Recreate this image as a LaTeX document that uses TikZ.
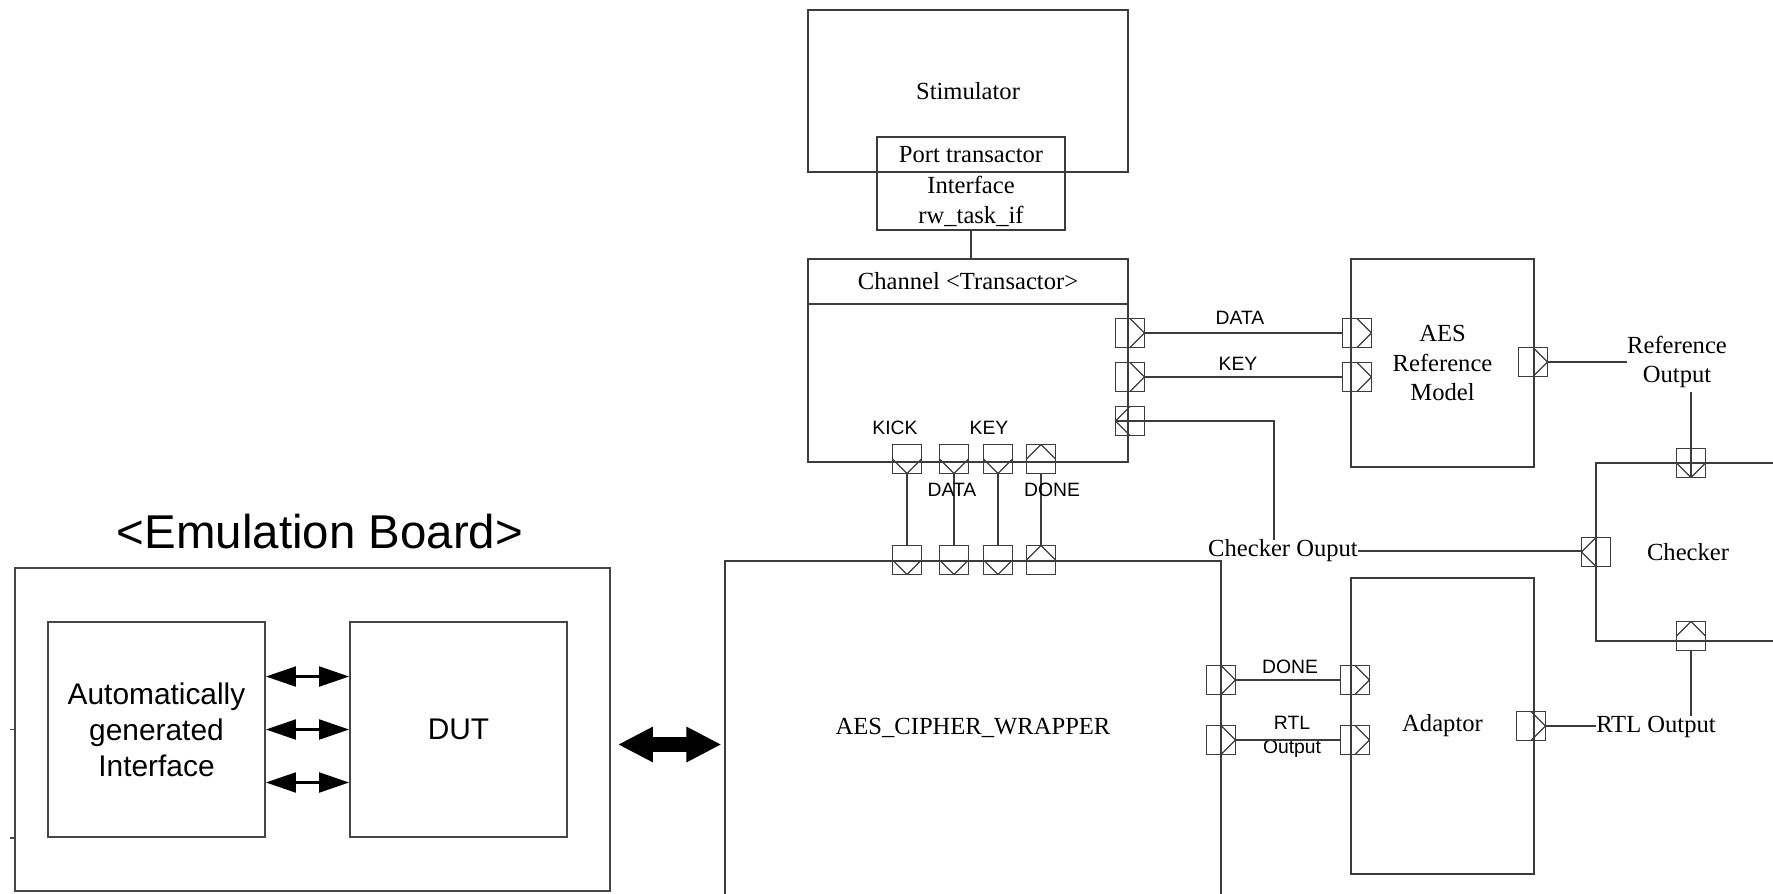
\documentclass[tikz,border=0pt]{standalone}
\usepackage{fontspec}
\setmainfont{Liberation Serif}
\newfontfamily\sigfont{Liberation Sans}
\usepackage{tikz}
\usetikzlibrary{arrows.meta,positioning,calc}
\definecolor{WireGray}{RGB}{60,60,60}
\definecolor{BoardGray}{RGB}{70,70,70}
\tikzset{
    blk/.style={draw=WireGray, line width=0.65pt, inner sep=0pt, align=center, font=\fontsize{14}{17}\selectfont},
    boardbox/.style={draw=BoardGray, line width=1.1pt, inner sep=0pt, align=center, font=\sigfont\fontsize{17}{20.4}\selectfont},
    portbox/.style={draw=WireGray, line width=0.65pt, minimum size=0.58cm, inner sep=0pt},
    chev/.style n args={3}{portbox, path picture={\draw[WireGray, line width=0.65pt] (path picture bounding box.#1) -- (path picture bounding box.#2) -- (path picture bounding box.#3);}},
    portR/.style={chev={north}{east}{south}},
    portL/.style={chev={north}{west}{south}},
    portD/.style={chev={west}{south}{east}},
    portU/.style={chev={west}{north}{east}},
    wire/.style={draw=WireGray, line width=0.65pt},
    sig/.style={inner sep=0pt, align=center, font=\sigfont\fontsize{11}{13.6}\selectfont},
    txt/.style={inner sep=0pt, align=center, font=\fontsize{14}{16.5}\selectfont},
    duplex/.style={{Triangle[length=0.6cm,width=0.4cm]}-{Triangle[length=0.6cm,width=0.4cm]}, line width=1.2pt, draw=black},
    bigarrow/.style={{Triangle[length=0.7cm,width=0.66cm]}-{Triangle[length=0.7cm,width=0.66cm]}, line width=0.3cm},
}
\begin{document}
\begin{tikzpicture}[x=0.02cm, y=-0.02cm]
\useasboundingbox (0,0) rectangle (1773,893);
\clip (0,0) rectangle (1773,893);

% emulation board
\node[font=\sigfont\fontsize{27}{30}\selectfont] (title) at (320,532) {<Emulation Board>};
\node[boardbox, minimum width=11.9cm, minimum height=6.46cm] (board) at (312.5,729.5) {};
\node[boardbox, minimum width=4.34cm, minimum height=4.3cm] (auto) at (156.5,729.5) {Automatically\\generated\\Interface};
\node[boardbox, minimum width=4.34cm, minimum height=4.3cm] (dut) at (458.5,729.5) {DUT};
\foreach \dy in {1.06,0,-1.06}
    \draw[duplex] ([yshift=\dy cm]auto.east) -- ([yshift=\dy cm]dut.west);
\draw[draw=BoardGray, line width=1.1pt] (board.west) -- ++(-4,0);
\draw[draw=BoardGray, line width=1.1pt] ([yshift=-2.17cm]board.west) -- ++(-4,0);

% host side
\node[blk, minimum width=6.4cm, minimum height=3.24cm] (stim) at (968,91) {Stimulator};
\node[blk, minimum width=3.76cm, minimum height=0.7cm] (porttr) at (971,154.5) {Port transactor};
\node[blk, minimum width=3.76cm, minimum height=1.16cm] (iface) at (971,201) {Interface\\rw\_task\_if};
\node[blk, minimum width=6.4cm, minimum height=4.06cm] (chan) at (968,360.5) {};
\node[blk, minimum width=6.4cm, minimum height=0.9cm, anchor=north] (chanhead) at (chan.north) {Channel <Transactor>};
\draw[wire] (iface.south) -- (iface.south |- chan.north);

\node[blk, minimum width=9.92cm, minimum height=6.68cm] (wrap) at (973,728) {AES\_CIPHER\_WRAPPER};
\node[blk, minimum width=3.66cm, minimum height=4.16cm] (aesref) at (1442.5,363) {AES\\Reference\\Model};
\node[blk, minimum width=3.66cm, minimum height=5.92cm] (adapt) at (1442.5,726) {Adaptor};
\node[blk, minimum width=3.68cm, minimum height=3.56cm] (check) at (1688,552) {Checker};

\coordinate (bigl) at ([yshift=-0.3cm]board.east);
\draw[bigarrow, shorten <=0.14cm, shorten >=0.06cm] (bigl) -- (bigl -| wrap.west);

% ports
\node[portR] (chdata) at (1130,333) {};
\node[portR] (chkey) at (1130,377) {};
\node[portL] (chres) at (1130,421) {};
\foreach \x/\n/\ap in {907/kick/south, 954/data/south, 998/key/south, 1041/done/north} {
    \node[chev={west}{\ap}{east}] (bot\n) at (\x,459) {};
    \node[chev={west}{\ap}{east}] (top\n) at (\x,560) {};
    \draw[wire] (bot\n.south) -- (top\n.north);
}
\node[portR] (wrdone) at (1221,680) {};
\node[portR] (wrrtl) at (1221,740) {};
\node[portR] (addone) at (1355,680) {};
\node[portR] (adrtl) at (1355,740) {};
\node[portR] (adout) at (1531,726) {};
\node[portR] (refdata) at (1357,333) {};
\node[portR] (refkey) at (1357,377) {};
\node[portR] (refout) at (1533,362) {};
\node[portD] (ckref) at (1691,463) {};
\node[portL] (ckin) at (1596,552) {};
\node[portU] (ckrtl) at (1691,636) {};

% signal names
\node[sig] (lkick) at (895,428) {KICK};
\node[sig] (lkey) at (989,428) {KEY};
\node[sig] (ldata) at (952,490) {DATA};
\node[sig] (ldone) at (1052,490) {DONE};
\node[sig] (ldata2) at (1240,318) {DATA};
\node[sig] (lkey2) at (1238,364) {KEY};
\node[sig] (ldone2) at (1290,667) {DONE};
\node[sig] (lrtl) at (1292,737) {RTL\\Output};

\node[txt] (refouttxt) at (1677,361.5) {Reference\\Output};
\node[txt] (chkouttxt) at (1283,551) {Checker Ouput};
\node[txt] (rtlouttxt) at (1656,727) {RTL Output};

% wires
\draw[wire] (chdata.east) -- (refdata.west);
\draw[wire] (chkey.east) -- (refkey.west);
\draw[wire] (chres.west) -| ([xshift=-0.18cm]chkouttxt.north);
\draw[wire] (chkouttxt.east) -- (chkouttxt.east -| ckin.west);
\draw[wire] (refout.east) -- (refout.east -| refouttxt.west);
\draw[wire, shorten <=0.08cm] (refouttxt.south -| ckref) -- (ckref.south);
\draw[wire] (ckrtl.south) -- (ckrtl.south |- rtlouttxt.north);
\draw[wire] (adout.east) -- (adout.east -| rtlouttxt.west);
\draw[wire] (wrdone.east) -- (addone.west);
\draw[wire] (wrrtl.east) -- (adrtl.west);
\end{tikzpicture}
\end{document}
